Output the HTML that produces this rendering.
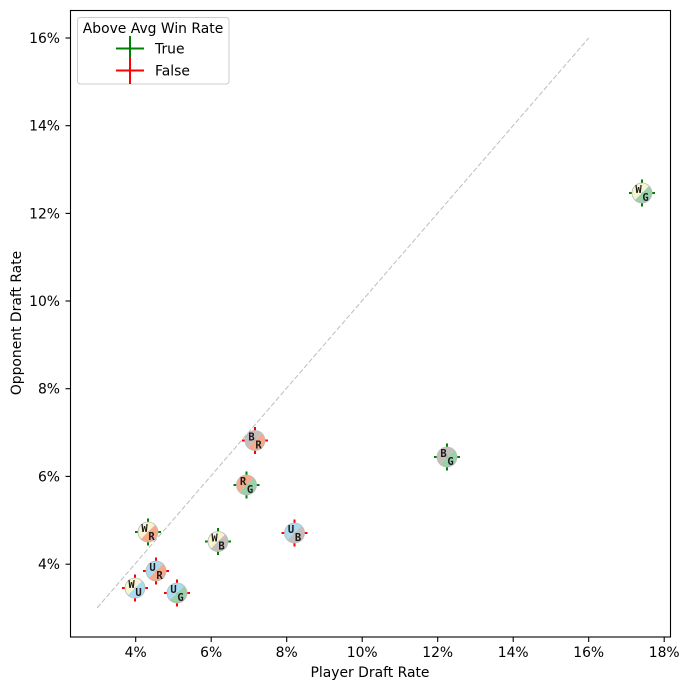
<!DOCTYPE html>
<html><head><meta charset="utf-8"><style>
html,body{margin:0;padding:0;background:#fff;}
svg{display:block;font-family:"DejaVu Sans","Liberation Sans",sans-serif;}
.t{font-size:13.9px;fill:#000;}
.m{font-family:"DejaVu Sans Mono","Liberation Mono",monospace;font-weight:bold;font-size:10.5px;fill:#1a1a1a;text-anchor:middle;}
</style></head><body>
<svg width="689" height="690" viewBox="0 0 689 690" xmlns="http://www.w3.org/2000/svg">
<rect x="0" y="0" width="689" height="690" fill="#fff"/>
<!-- diagonal -->
<line x1="97.2" y1="607.8" x2="588.7" y2="38" stroke="#bdbdbd" stroke-width="1" stroke-dasharray="5,2.2"/>

<defs>
<clipPath id="tl"><polygon points="-12,-12 12,-12 -12,12"/></clipPath>
<clipPath id="br"><polygon points="12,-12 12,12 -12,12"/></clipPath>
<g id="gbar"><line x1="-13" y1="0" x2="13" y2="0" stroke="#008000" stroke-width="2"/><line x1="0" y1="-13.5" x2="0" y2="13.5" stroke="#008000" stroke-width="2"/></g>
<g id="rbar"><line x1="-13" y1="0" x2="13" y2="0" stroke="#ff0000" stroke-width="2"/><line x1="0" y1="-13.5" x2="0" y2="13.5" stroke="#ff0000" stroke-width="2"/></g>
</defs>

<!-- markers -->
<g transform="translate(642,193)"><use href="#gbar"/><circle r="10" fill="#f8f4d2" clip-path="url(#tl)"/><circle r="10" fill="#9bd0ab" clip-path="url(#br)"/><circle r="10" fill="none" stroke="#bbb" stroke-width="0.8"/><text class="m" x="-3.5" y="0">W</text><text class="m" x="3.5" y="8">G</text></g>
<g transform="translate(447,457)"><use href="#gbar"/><circle r="10" fill="#c6bebc" clip-path="url(#tl)"/><circle r="10" fill="#9bd0ab" clip-path="url(#br)"/><circle r="10" fill="none" stroke="#bbb" stroke-width="0.8"/><text class="m" x="-3.5" y="0">B</text><text class="m" x="3.5" y="8">G</text></g>
<g transform="translate(255,440.5)"><use href="#rbar"/><circle r="10" fill="#c6bebc" clip-path="url(#tl)"/><circle r="10" fill="#f5aa8c" clip-path="url(#br)"/><circle r="10" fill="none" stroke="#bbb" stroke-width="0.8"/><text class="m" x="-3.5" y="0">B</text><text class="m" x="3.5" y="8">R</text></g>
<g transform="translate(246.5,485)"><use href="#gbar"/><circle r="10" fill="#f5aa8c" clip-path="url(#tl)"/><circle r="10" fill="#9bd0ab" clip-path="url(#br)"/><circle r="10" fill="none" stroke="#bbb" stroke-width="0.8"/><text class="m" x="-3.5" y="0">R</text><text class="m" x="3.5" y="8">G</text></g>
<g transform="translate(294.5,533)"><use href="#rbar"/><circle r="10" fill="#aadbf1" clip-path="url(#tl)"/><circle r="10" fill="#c6bebc" clip-path="url(#br)"/><circle r="10" fill="none" stroke="#bbb" stroke-width="0.8"/><text class="m" x="-3.5" y="0">U</text><text class="m" x="3.5" y="8">B</text></g>
<g transform="translate(218,541.5)"><use href="#gbar"/><circle r="10" fill="#f8f4d2" clip-path="url(#tl)"/><circle r="10" fill="#c6bebc" clip-path="url(#br)"/><circle r="10" fill="none" stroke="#bbb" stroke-width="0.8"/><text class="m" x="-3.5" y="0">W</text><text class="m" x="3.5" y="8">B</text></g>
<g transform="translate(148,532)"><use href="#gbar"/><circle r="10" fill="#f8f4d2" clip-path="url(#tl)"/><circle r="10" fill="#f5aa8c" clip-path="url(#br)"/><circle r="10" fill="none" stroke="#bbb" stroke-width="0.8"/><text class="m" x="-3.5" y="0">W</text><text class="m" x="3.5" y="8">R</text></g>
<g transform="translate(156,571)"><use href="#rbar"/><circle r="10" fill="#aadbf1" clip-path="url(#tl)"/><circle r="10" fill="#f5aa8c" clip-path="url(#br)"/><circle r="10" fill="none" stroke="#bbb" stroke-width="0.8"/><text class="m" x="-3.5" y="0">U</text><text class="m" x="3.5" y="8">R</text></g>
<g transform="translate(135,588)"><use href="#rbar"/><circle r="10" fill="#f8f4d2" clip-path="url(#tl)"/><circle r="10" fill="#aadbf1" clip-path="url(#br)"/><circle r="10" fill="none" stroke="#bbb" stroke-width="0.8"/><text class="m" x="-3.5" y="0">W</text><text class="m" x="3.5" y="8">U</text></g>
<g transform="translate(177,593)"><use href="#rbar"/><circle r="10" fill="#aadbf1" clip-path="url(#tl)"/><circle r="10" fill="#9bd0ab" clip-path="url(#br)"/><circle r="10" fill="none" stroke="#bbb" stroke-width="0.8"/><text class="m" x="-3.5" y="0">U</text><text class="m" x="3.5" y="8">G</text></g>

<!-- axes frame -->
<rect x="70.5" y="10.5" width="600" height="626.5" fill="none" stroke="#000" stroke-width="1.1"/>

<!-- x ticks -->
<g stroke="#000" stroke-width="1.1">
<line x1="135.7" y1="637" x2="135.7" y2="642"/>
<line x1="211.2" y1="637" x2="211.2" y2="642"/>
<line x1="286.7" y1="637" x2="286.7" y2="642"/>
<line x1="362.2" y1="637" x2="362.2" y2="642"/>
<line x1="437.7" y1="637" x2="437.7" y2="642"/>
<line x1="513.2" y1="637" x2="513.2" y2="642"/>
<line x1="588.7" y1="637" x2="588.7" y2="642"/>
<line x1="664.2" y1="637" x2="664.2" y2="642"/>
</g>
<g class="t" text-anchor="middle">
<text x="135.7" y="657">4%</text>
<text x="211.2" y="657">6%</text>
<text x="286.7" y="657">8%</text>
<text x="362.2" y="657">10%</text>
<text x="437.7" y="657">12%</text>
<text x="513.2" y="657">14%</text>
<text x="588.7" y="657">16%</text>
<text x="664.2" y="657">18%</text>
</g>
<!-- y ticks -->
<g stroke="#000" stroke-width="1.1">
<line x1="65.5" y1="564.2" x2="70.5" y2="564.2"/>
<line x1="65.5" y1="476.4" x2="70.5" y2="476.4"/>
<line x1="65.5" y1="388.7" x2="70.5" y2="388.7"/>
<line x1="65.5" y1="301.0" x2="70.5" y2="301.0"/>
<line x1="65.5" y1="213.4" x2="70.5" y2="213.4"/>
<line x1="65.5" y1="125.7" x2="70.5" y2="125.7"/>
<line x1="65.5" y1="38.0" x2="70.5" y2="38.0"/>
</g>
<g class="t" text-anchor="end">
<text x="60" y="569.2">4%</text>
<text x="60" y="481.4">6%</text>
<text x="60" y="393.7">8%</text>
<text x="60" y="306.0">10%</text>
<text x="60" y="218.4">12%</text>
<text x="60" y="130.7">14%</text>
<text x="60" y="43.0">16%</text>
</g>
<!-- axis labels -->
<text class="t" x="370" y="677" text-anchor="middle">Player Draft Rate</text>
<text class="t" transform="translate(21,323) rotate(-90)" text-anchor="middle">Opponent Draft Rate</text>

<!-- legend -->
<rect x="77.5" y="17.5" width="151.5" height="66.5" rx="3" fill="#fff" fill-opacity="0.8" stroke="#cccccc" stroke-width="1"/>
<text class="t" x="153" y="33" text-anchor="middle">Above Avg Win Rate</text>
<line x1="116" y1="48.5" x2="144" y2="48.5" stroke="#008000" stroke-width="2"/>
<line x1="130" y1="36" x2="130" y2="61" stroke="#008000" stroke-width="2"/>
<line x1="116" y1="70.5" x2="144" y2="70.5" stroke="#ff0000" stroke-width="2"/>
<line x1="130" y1="58" x2="130" y2="84" stroke="#ff0000" stroke-width="2"/>
<text class="t" x="155" y="53.5">True</text>
<text class="t" x="155" y="75.5">False</text>
</svg>
</body></html>
